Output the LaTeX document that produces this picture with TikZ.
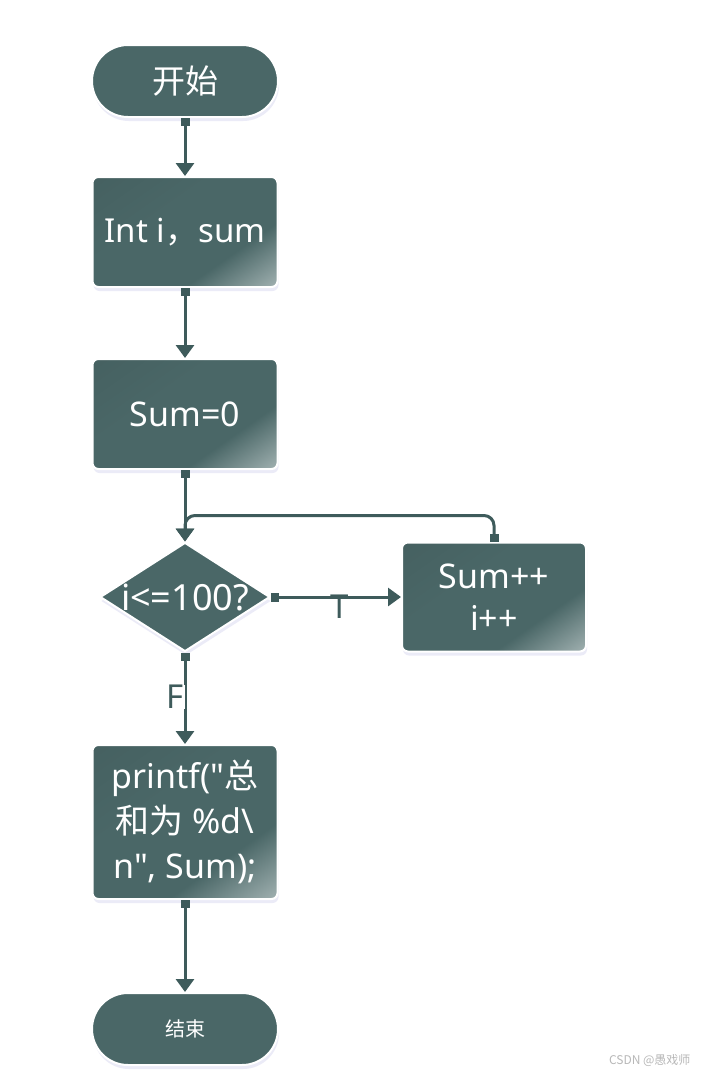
\documentclass[tikz,border=0pt]{standalone}
\usepackage{fontspec}
\setmainfont{Noto Sans}[Ligatures=TeXOff]
\newfontfamily\cjk{Noto Sans CJK SC}
\usetikzlibrary{shapes.geometric,arrows.meta,shadows}
\definecolor{base}{HTML}{4A6767}
\definecolor{basel}{HTML}{B0BEBE}
\definecolor{edge}{HTML}{3E5B5B}
\definecolor{wm}{HTML}{B8B8B8}
\pgfdeclarehorizontalshading{boxshade}{100bp}{color(0bp)=(base!90!black); color(40bp)=(base); color(66bp)=(base); color(88bp)=(basel); color(100bp)=(basel)}
\begin{document}
\begin{tikzpicture}[x=1pt,y=-1pt,
  shadowed/.style={drop shadow={shadow xshift=1pt,shadow yshift=-4pt,fill=black!40!blue!25,opacity=0.3}},
  proc/.style={rectangle, rounded corners=6pt, minimum width=185pt, minimum height=110pt,
    shading=boxshade, shading angle=-55, draw=white, line width=2pt, text=white,
    font=\fontsize{34}{45}\selectfont, align=center, inner sep=2pt, shadowed},
  term/.style={rectangle, rounded corners=36pt, minimum width=186pt, minimum height=72pt,
    fill=base, draw=white, line width=2pt, text=white, shadowed},
  dec/.style={diamond, minimum width=170pt, minimum height=109pt, inner sep=0pt,
    fill=base, draw=white, line width=2pt, shadowed},
  conn/.style={draw=edge, line width=3pt, {Square[length=8pt,width=9pt]}-{Triangle[width=18pt,length=13pt]}},
  lbl/.style={text=edge, font=\fontsize{33}{36}\selectfont, inner sep=0pt}]
\useasboundingbox (0,0) rectangle (703,1074);
\fill[white] (0,0) rectangle (703,1074);

\node[term, font=\cjk\fontsize{33}{40}\selectfont] (start) at (185,81) {开始};
\node[proc, font=\fontsize{33}{44}\selectfont] (decl) at (185,232) {Int i{\cjk ，}sum};
\node[proc] (init) at (185,414) {Sum=0};
\node[dec] (cond) at (185,597) {};
\node[text=white, font=\fontsize{36}{40}\selectfont, inner sep=0pt] (condt) at (cond.center) {i<=100?};
\node[proc, minimum width=184pt, minimum height=109pt, font=\fontsize{34}{42}\selectfont] (inc) at (494,597) {Sum++\\i++};
\node[proc, minimum height=154pt] (out) at (185,822) {printf("{\cjk 总}\\{\cjk 和为} \%d\textbackslash\\n", Sum);};
\node[term, font=\cjk\fontsize{20}{24}\selectfont] (stop) at (185,1029) {结束};

\draw[conn] (start.south) -- (decl.north);
\draw[conn] (decl.south) -- (init.north);
\draw[conn] (init.south) -- (cond.north);
\draw[conn, rounded corners=10pt] (inc.north) -- ++(0,-26) -| (cond.north);
\draw[conn] (cond.east) -- (inc.west);
\node[lbl] (tl) at (340,607) {T};
\draw[conn] (cond.south) -- (out.north);
\node[lbl, fill=white, inner xsep=1pt] (fl) at (175,697) {F};
\draw[conn] (out.south) -- (stop.north);

\node[text=wm, font=\cjk\fontsize{12}{14}\selectfont, anchor=east] (wmk) at (694,1060) {CSDN @愚戏师};
\end{tikzpicture}
\end{document}
